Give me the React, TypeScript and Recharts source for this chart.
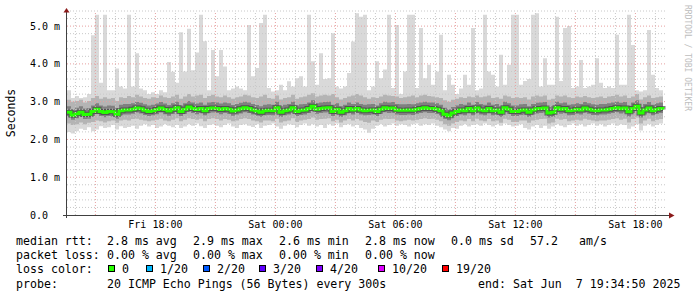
import { ComposedChart, Area, Line, XAxis, YAxis, ReferenceLine } from 'recharts';

// smokeping style latency graph, 30h window ending Sat 19:34:50
const START_HOUR = 13.58; // hours since Fri 00:00
const STEP_HOURS = 0.2; // 12 minute buckets

const medianRtt = [
  2.72, 2.64, 2.68, 2.72, 2.66, 2.67, 2.74, 2.80, 2.74, 2.71,
  2.74, 2.73, 2.67, 2.76, 2.78, 2.78, 2.80, 2.83, 2.81, 2.77,
  2.74, 2.76, 2.79, 2.83, 2.79, 2.75, 2.80, 2.84, 2.74, 2.80,
  2.86, 2.82, 2.79, 2.82, 2.76, 2.82, 2.83, 2.82, 2.79, 2.82,
  2.80, 2.75, 2.78, 2.81, 2.84, 2.82, 2.78, 2.75, 2.72, 2.76,
  2.77, 2.76, 2.84, 2.72, 2.76, 2.78, 2.84, 2.74, 2.77, 2.78,
  2.82, 2.88, 2.80, 2.82, 2.83, 2.84, 2.74, 2.80, 2.72, 2.76,
  2.82, 2.78, 2.82, 2.78, 2.76, 2.77, 2.78, 2.74, 2.80, 2.84,
  2.82, 2.83, 2.78, 2.77, 2.77, 2.78, 2.77, 2.80, 2.82, 2.84,
  2.82, 2.82, 2.80, 2.76, 2.67, 2.63, 2.70, 2.74, 2.78, 2.76,
  2.82, 2.76, 2.83, 2.78, 2.76, 2.82, 2.76, 2.78, 2.72, 2.84,
  2.80, 2.74, 2.74, 2.77, 2.78, 2.72, 2.78, 2.81, 2.82, 2.83,
  2.70, 2.72, 2.84, 2.80, 2.82, 2.76, 2.77, 2.80, 2.78, 2.83,
  2.80, 2.77, 2.76, 2.78, 2.78, 2.80, 2.82, 2.84, 2.81, 2.83,
  2.73, 2.82, 2.88, 2.70, 2.78, 2.83, 2.76, 2.80, 2.82, 2.79,
];

const maxPing = [
  3.30, 3.10, 3.15, 3.10, 3.12, 3.20, 4.76, 5.30, 3.50, 5.30,
  3.30, 3.30, 3.88, 3.40, 3.35, 5.30, 3.40, 4.28, 3.35, 3.30,
  3.20, 3.25, 3.20, 3.30, 3.25, 4.05, 3.79, 3.50, 4.84, 3.80,
  4.93, 3.83, 4.30, 5.30, 4.60, 3.30, 4.37, 3.67, 4.37, 3.93,
  3.30, 3.35, 3.40, 3.35, 3.30, 5.03, 3.67, 3.89, 5.08, 5.30,
  3.36, 3.27, 3.30, 3.45, 3.30, 3.54, 3.40, 3.62, 3.67, 3.40,
  5.30, 4.07, 3.45, 4.28, 3.60, 3.62, 4.81, 3.40, 3.35, 3.40,
  3.76, 4.59, 5.34, 5.25, 5.30, 3.30, 3.40, 4.07, 3.62, 3.85,
  5.30, 3.36, 5.03, 3.20, 3.80, 5.30, 5.30, 3.36, 4.95, 3.62,
  3.98, 3.45, 3.80, 4.77, 3.30, 3.71, 3.45, 3.20, 3.35, 3.71,
  3.45, 4.95, 3.30, 3.35, 5.30, 3.80, 3.71, 3.40, 4.24, 3.45,
  3.98, 5.30, 5.30, 3.45, 3.55, 3.60, 5.30, 5.34, 3.40, 4.15,
  3.45, 3.45, 5.25, 3.55, 4.95, 5.00, 3.36, 3.40, 4.10, 3.36,
  3.40, 3.45, 4.15, 3.50, 3.36, 3.40, 3.36, 4.77, 3.45, 3.45,
  5.30, 4.50, 3.30, 3.27, 3.30, 4.90, 3.71, 3.36, 3.30, 3.40,
];

const minPing = [
  2.20, 2.16, 2.22, 2.28, 2.25, 2.32, 2.22, 2.26, 2.35, 2.30,
  2.32, 2.38, 2.26, 2.35, 2.30, 2.33, 2.36, 2.28, 2.36, 2.40,
  2.34, 2.38, 2.30, 2.34, 2.40, 2.36, 2.32, 2.38, 2.30, 2.34,
  2.40, 2.36, 2.42, 2.35, 2.30, 2.38, 2.40, 2.36, 2.32, 2.38,
  2.42, 2.34, 2.30, 2.38, 2.40, 2.36, 2.33, 2.40, 2.30, 2.36,
  2.38, 2.42, 2.34, 2.28, 2.36, 2.40, 2.38, 2.32, 2.38, 2.42,
  2.36, 2.40, 2.34, 2.38, 2.30, 2.40, 2.36, 2.42, 2.32, 2.38,
  2.40, 2.34, 2.38, 2.30, 2.26, 2.18, 2.28, 2.36, 2.40, 2.34,
  2.38, 2.42, 2.36, 2.40, 2.38, 2.34, 2.40, 2.42, 2.36, 2.40,
  2.38, 2.42, 2.36, 2.32, 2.26, 2.22, 2.30, 2.28, 2.36, 2.40,
  2.34, 2.38, 2.40, 2.36, 2.42, 2.38, 2.34, 2.40, 2.36, 2.42,
  2.38, 2.34, 2.36, 2.40, 2.30, 2.26, 2.34, 2.38, 2.30, 2.36,
  2.28, 2.34, 2.40, 2.36, 2.32, 2.38, 2.42, 2.36, 2.40, 2.34,
  2.38, 2.42, 2.36, 2.40, 2.34, 2.38, 2.42, 2.36, 2.40, 2.38,
  2.28, 2.34, 2.40, 2.24, 2.36, 2.40, 2.34, 2.38, 2.42, 2.36,
];

// medium gray haze (roughly 3rd..17th ping)
const hazeHigh = [
  3.05, 3.00, 3.02, 3.05, 2.98, 3.02, 3.10, 3.15, 3.08, 3.12,
  3.08, 3.10, 3.02, 3.12, 3.10, 3.15, 3.12, 3.18, 3.14, 3.10,
  3.08, 3.12, 3.10, 3.16, 3.12, 3.10, 3.14, 3.18, 3.08, 3.14,
  3.20, 3.14, 3.16, 3.18, 3.10, 3.15, 3.18, 3.14, 3.12, 3.16,
  3.12, 3.08, 3.12, 3.14, 3.18, 3.16, 3.12, 3.10, 3.14, 3.18,
  3.10, 3.08, 3.16, 3.06, 3.10, 3.12, 3.18, 3.08, 3.12, 3.14,
  3.18, 3.22, 3.14, 3.16, 3.18, 3.16, 3.20, 3.12, 3.06, 3.10,
  3.14, 3.16, 3.20, 3.16, 3.12, 3.08, 3.12, 3.10, 3.14, 3.18,
  3.16, 3.15, 3.14, 3.10, 3.12, 3.14, 3.16, 3.12, 3.16, 3.18,
  3.15, 3.14, 3.12, 3.10, 3.04, 3.00, 3.05, 3.08, 3.12, 3.10,
  3.14, 3.12, 3.16, 3.12, 3.14, 3.16, 3.10, 3.12, 3.08, 3.16,
  3.14, 3.10, 3.12, 3.10, 3.12, 3.06, 3.14, 3.16, 3.14, 3.16,
  3.05, 3.08, 3.16, 3.14, 3.16, 3.12, 3.10, 3.14, 3.12, 3.15,
  3.12, 3.10, 3.12, 3.14, 3.10, 3.14, 3.15, 3.18, 3.14, 3.16,
  3.10, 3.14, 3.20, 3.06, 3.12, 3.16, 3.10, 3.12, 3.14, 3.12,
];

const hazeLow = [
  2.42, 2.38, 2.40, 2.45, 2.40, 2.44, 2.46, 2.50, 2.48, 2.45,
  2.48, 2.50, 2.44, 2.50, 2.52, 2.50, 2.54, 2.55, 2.52, 2.50,
  2.48, 2.50, 2.52, 2.55, 2.50, 2.48, 2.52, 2.56, 2.48, 2.52,
  2.56, 2.54, 2.52, 2.55, 2.48, 2.54, 2.56, 2.54, 2.50, 2.54,
  2.52, 2.48, 2.50, 2.54, 2.56, 2.54, 2.50, 2.48, 2.45, 2.50,
  2.50, 2.48, 2.55, 2.45, 2.48, 2.50, 2.56, 2.46, 2.50, 2.52,
  2.54, 2.58, 2.52, 2.54, 2.55, 2.56, 2.48, 2.52, 2.45, 2.50,
  2.54, 2.50, 2.54, 2.50, 2.46, 2.44, 2.50, 2.46, 2.52, 2.55,
  2.54, 2.55, 2.50, 2.48, 2.50, 2.52, 2.50, 2.52, 2.54, 2.56,
  2.54, 2.55, 2.52, 2.48, 2.40, 2.36, 2.42, 2.46, 2.50, 2.48,
  2.54, 2.48, 2.55, 2.50, 2.48, 2.54, 2.48, 2.50, 2.44, 2.55,
  2.52, 2.46, 2.46, 2.50, 2.50, 2.44, 2.50, 2.52, 2.54, 2.55,
  2.42, 2.45, 2.55, 2.52, 2.54, 2.48, 2.50, 2.52, 2.50, 2.55,
  2.52, 2.50, 2.48, 2.50, 2.50, 2.52, 2.54, 2.56, 2.52, 2.55,
  2.45, 2.54, 2.58, 2.42, 2.50, 2.55, 2.48, 2.52, 2.54, 2.50,
];

// dark core of the smoke
const coreHigh = [
  2.88, 2.80, 2.84, 2.88, 2.82, 2.83, 2.90, 2.96, 2.90, 2.87,
  2.90, 2.89, 2.83, 2.92, 2.94, 2.94, 2.96, 2.99, 2.97, 2.93,
  2.90, 2.92, 2.95, 2.99, 2.95, 2.91, 2.96, 3.00, 2.90, 2.96,
  3.02, 2.98, 2.95, 2.98, 2.92, 2.98, 2.99, 2.98, 2.95, 2.98,
  2.96, 2.91, 2.94, 2.97, 3.00, 2.98, 2.94, 2.91, 2.88, 2.92,
  2.93, 2.92, 3.00, 2.88, 2.92, 2.94, 3.00, 2.90, 2.93, 2.94,
  2.98, 3.04, 2.96, 2.98, 2.99, 3.00, 2.92, 2.96, 2.88, 2.92,
  2.98, 2.94, 2.98, 2.94, 2.92, 2.93, 2.94, 2.90, 2.96, 3.00,
  2.98, 2.99, 2.94, 2.93, 2.93, 2.94, 2.93, 2.96, 2.98, 3.00,
  2.98, 2.98, 2.96, 2.92, 2.84, 2.80, 2.86, 2.90, 2.94, 2.92,
  2.98, 2.92, 2.99, 2.94, 2.92, 2.98, 2.92, 2.94, 2.88, 3.00,
  2.96, 2.90, 2.90, 2.93, 2.94, 2.88, 2.94, 2.97, 2.98, 2.99,
  2.86, 2.88, 3.00, 2.96, 2.98, 2.92, 2.93, 2.96, 2.94, 2.99,
  2.96, 2.93, 2.92, 2.94, 2.94, 2.96, 2.98, 3.00, 2.97, 2.99,
  2.89, 2.98, 3.04, 2.86, 2.94, 2.99, 2.92, 2.96, 2.98, 2.95,
];

const coreLow = [
  2.60, 2.52, 2.56, 2.60, 2.54, 2.55, 2.62, 2.68, 2.62, 2.59,
  2.62, 2.61, 2.55, 2.64, 2.66, 2.66, 2.68, 2.71, 2.69, 2.65,
  2.62, 2.64, 2.67, 2.71, 2.67, 2.63, 2.68, 2.72, 2.62, 2.68,
  2.74, 2.70, 2.67, 2.70, 2.64, 2.70, 2.71, 2.70, 2.67, 2.70,
  2.68, 2.63, 2.66, 2.69, 2.72, 2.70, 2.66, 2.63, 2.60, 2.64,
  2.65, 2.64, 2.72, 2.60, 2.64, 2.66, 2.72, 2.62, 2.65, 2.66,
  2.70, 2.76, 2.68, 2.70, 2.71, 2.72, 2.62, 2.68, 2.60, 2.64,
  2.70, 2.66, 2.70, 2.66, 2.64, 2.65, 2.66, 2.62, 2.68, 2.72,
  2.70, 2.71, 2.66, 2.65, 2.65, 2.66, 2.65, 2.68, 2.70, 2.72,
  2.70, 2.70, 2.68, 2.64, 2.55, 2.51, 2.58, 2.62, 2.66, 2.64,
  2.70, 2.64, 2.71, 2.66, 2.64, 2.70, 2.64, 2.66, 2.60, 2.72,
  2.68, 2.62, 2.62, 2.65, 2.66, 2.60, 2.66, 2.69, 2.70, 2.71,
  2.58, 2.60, 2.72, 2.68, 2.70, 2.64, 2.65, 2.68, 2.66, 2.71,
  2.68, 2.65, 2.64, 2.66, 2.66, 2.68, 2.70, 2.72, 2.69, 2.71,
  2.61, 2.70, 2.76, 2.58, 2.66, 2.71, 2.64, 2.68, 2.70, 2.67,
];

const timeTicks = [18, 24, 30, 36, 42];
const rttTicks = [0, 1, 2, 3, 4, 5];

const lossLevels = ['0', '1/20', '2/20', '3/20', '4/20', '10/20', '19/20'];
const lossColors = ['#26ff00', '#00b8ff', '#0059ff', '#5e00ff', '#7e00ff', '#dd00ff', '#ff0000'];
const lossSwatchX = [108, 146, 203, 259, 316, 378, 442];

const rttStats = ['2.8 ms avg', '2.9 ms max', '2.6 ms min', '2.8 ms now', '0.0 ms sd'];
const lossStats = ['0.00 % avg', '0.00 % max', '0.00 % min', '0.00 % now'];
const statX = [107, 193, 279, 365, 451];

const rows = medianRtt.map((m, i) => ({
  t: START_HOUR + i * STEP_HOURS,
  outer: [minPing[i], maxPing[i]],
  haze: [hazeLow[i], hazeHigh[i]],
  core: [coreLow[i], coreHigh[i]],
  median: m,
}));

const minorY: number[] = [];
for (let k = 1; k <= 27; k++) if (k % 5 !== 0) minorY.push(k / 5);
const minorX: number[] = [];
const majorX: number[] = [];
for (let h = 14; h <= 43; h++) (h % 3 === 0 ? majorX : minorX).push(h);

const MONO = '"DejaVu Sans Mono", monospace';
const MINOR = '#c8c8c8';
const MAJOR = '#e6a0a0';

const fmtTime = (h: number) => {
  const day = h < 24 ? 'Fri' : 'Sat';
  return `${day} ${String(h % 24).padStart(2, '0')}:00`;
};

const YTick = ({ y, payload }: any) => (
  <text x={30} y={y} dy={3.6} fontFamily={MONO} fontSize={10} fill="#000">
    {payload.value === 0 ? '0.0' : `${payload.value.toFixed(1)} m`}
  </text>
);

const XTick = ({ x, payload }: any) => (
  <text x={x} y={227.5} textAnchor="middle" fontFamily={MONO} fontSize={10} fill="#000">
    {fmtTime(payload.value)}
  </text>
);

const legendY = [244.5, 259, 273.2, 287.5];

const T = ({ x, y, children }: any) => (
  <text x={x} y={y} xmlSpace="preserve" style={{ whiteSpace: 'pre' }}>
    {children}
  </text>
);

export default function App() {
  return (
    <div style={{ position: 'absolute', left: 0, top: 0, width: 697, height: 297, background: '#fff' }}>
      <ComposedChart width={697} height={297} data={rows} margin={{ top: 11, right: 30, bottom: 62, left: 0 }}>
        <XAxis
          type="number"
          dataKey="t"
          domain={[START_HOUR, START_HOUR + 30]}
          ticks={timeTicks}
          tick={XTick}
          height={20}
          axisLine={false}
          tickLine={false}
          allowDataOverflow
        />
        <YAxis
          type="number"
          domain={[0, 5.4]}
          ticks={rttTicks}
          tick={YTick}
          width={67}
          axisLine={false}
          tickLine={false}
          allowDataOverflow
        />
        <Area dataKey="outer" type="stepAfter" stroke="none" fill="#d9d9d9" fillOpacity={1} isAnimationActive={false} />
        <Area dataKey="haze" type="stepAfter" stroke="none" fill="#b4b4b4" fillOpacity={1} isAnimationActive={false} />
        <Area dataKey="core" type="stepAfter" stroke="none" fill="#808080" fillOpacity={1} isAnimationActive={false} />
        <Line dataKey="median" type="stepAfter" stroke="#3a3a3a" strokeWidth={5} strokeOpacity={0.65} dot={false} isAnimationActive={false} />
        <Line dataKey="median" type="stepAfter" stroke="#26ff00" strokeWidth={3} dot={false} isAnimationActive={false} />
        {minorY.map((v) => (
          <ReferenceLine key={`my${v}`} y={v} stroke={MINOR} strokeDasharray="1 2" zIndex={900} />
        ))}
        {minorX.map((v) => (
          <ReferenceLine key={`mx${v}`} x={v} stroke={MINOR} strokeDasharray="1 2" zIndex={900} />
        ))}
        {rttTicks.slice(1).map((v) => (
          <ReferenceLine key={`My${v}`} y={v} stroke={MAJOR} strokeDasharray="1 2" zIndex={900} />
        ))}
        {majorX.map((v) => (
          <ReferenceLine key={`Mx${v}`} x={v} stroke={MAJOR} strokeDasharray="1 2" zIndex={900} />
        ))}
      </ComposedChart>

      <svg width={697} height={297} style={{ position: 'absolute', left: 0, top: 0, pointerEvents: 'none' }}>
        {/* axes with arrow heads */}
        <line x1={66.5} y1={218} x2={66.5} y2={12} stroke="#404040" />
        <line x1={63} y1={215.5} x2={670} y2={215.5} stroke="#404040" />
        <polygon points="63.5,12.5 69.5,12.5 66.5,8" fill="#8b1a1a" />
        <polygon points="669,212.5 669,218.5 674.5,215.5" fill="#8b1a1a" />

        <text
          transform="translate(14.5, 113) rotate(-90)"
          textAnchor="middle"
          fontFamily={MONO}
          fontSize={11.5}
          fill="#000"
        >
          Seconds
        </text>
        <text transform="translate(685, 5) rotate(90)" fontFamily={MONO} fontSize={8} fill="#bdbdbd">
          RRDTOOL / TOBI OETIKER
        </text>

        <g fontFamily={MONO} fontSize={11.6} fill="#000">
          <T x={16} y={legendY[0]}>median rtt:</T>
          {rttStats.map((s, i) => (
            <T key={s} x={statX[i]} y={legendY[0]}>{s}</T>
          ))}
          <T x={530} y={legendY[0]}>57.2</T>
          <T x={579} y={legendY[0]}>am/s</T>

          <T x={16} y={legendY[1]}>packet loss:</T>
          {lossStats.map((s, i) => (
            <T key={s} x={statX[i]} y={legendY[1]}>{s}</T>
          ))}

          <T x={16} y={legendY[2]}>loss color:</T>
          {lossLevels.map((lvl, i) => (
            <g key={lvl}>
              <rect x={lossSwatchX[i] + 0.5} y={265.5} width={6} height={6} fill={lossColors[i]} stroke="#000" />
              <T x={lossSwatchX[i] + 14} y={legendY[2]}>{lvl}</T>
            </g>
          ))}

          <T x={16} y={legendY[3]}>probe:</T>
          <T x={107} y={legendY[3]}>20 ICMP Echo Pings (56 Bytes) every 300s</T>
          <T x={478} y={legendY[3]}>end: Sat Jun  7 19:34:50 2025</T>
        </g>
      </svg>
    </div>
  );
}
